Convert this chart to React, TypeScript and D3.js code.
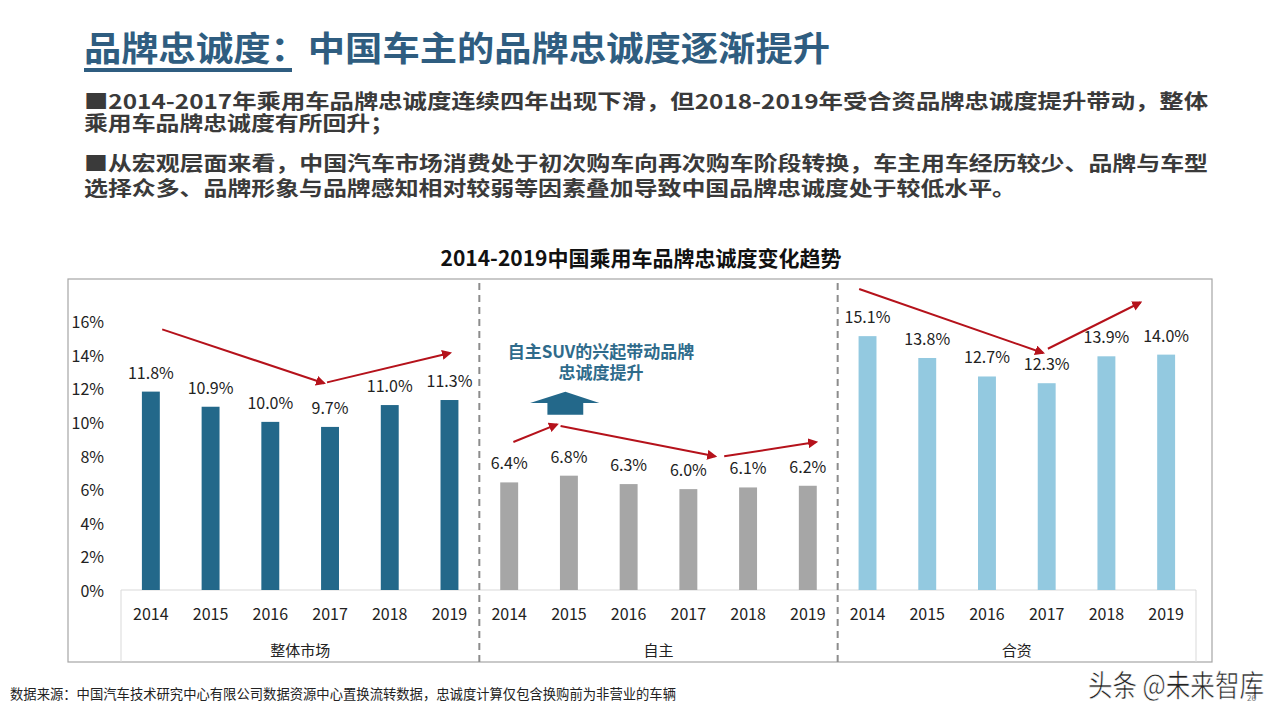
import { scaleBand, scaleLinear, range } from "d3";
import type { ReactElement } from "react";

const YEARS = ["2014", "2015", "2016", "2017", "2018", "2019"];
const GROUPS = ["整体市场", "自主", "合资"];
const OVERALL = [11.8, 10.9, 10.0, 9.7, 11.0, 11.3];
const DOMESTIC = [6.4, 6.8, 6.3, 6.0, 6.1, 6.2];
const JOINT = [15.1, 13.8, 12.7, 12.3, 13.9, 14.0];
const SERIES = [OVERALL, DOMESTIC, JOINT];
const BAR_COLORS = ["#23688a", "#a6a6a6", "#93c9e0"];
const Y_TICKS = [0, 2, 4, 6, 8, 10, 12, 14, 16];

// trend arrows, as [band position, value] pairs
const ARROWS: Array<[[number, number], [number, number]]> = [
  [[0.69, 15.5], [3.4, 12.3]],
  [[3.45, 12.35], [5.51, 14.1]],
  [[6.57, 8.8], [7.3, 9.85]],
  [[7.36, 9.75], [9.95, 7.95]],
  [[10.1, 7.95], [11.64, 8.8]],
  [[12.36, 17.9], [15.44, 14.1]],
  [[15.52, 14.35], [17.07, 17.1]],
];

// block arrow under the note: [band position, value] outline
const UP_ARROW: Array<[number, number]> = [
  [7.44, 11.79],
  [8.01, 11.13],
  [7.74, 11.13],
  [7.74, 10.42],
  [7.14, 10.42],
  [7.14, 11.13],
  [6.85, 11.13],
];

const TITLE = "品牌忠诚度：中国车主的品牌忠诚度逐渐提升";
const BULLETS = [
  "■2014-2017年乘用车品牌忠诚度连续四年出现下滑，但2018-2019年受合资品牌忠诚度提升带动，整体",
  "乘用车品牌忠诚度有所回升；",
  "■从宏观层面来看，中国汽车市场消费处于初次购车向再次购车阶段转换，车主用车经历较少、品牌与车型",
  "选择众多、品牌形象与品牌感知相对较弱等因素叠加导致中国品牌忠诚度处于较低水平。",
];
const CHART_TITLE = "2014-2019中国乘用车品牌忠诚度变化趋势";
const NOTE_LINES = ["自主SUV的兴起带动品牌", "忠诚度提升"];
const SOURCE =
  "数据来源：中国汽车技术研究中心有限公司数据资源中心置换流转数据，忠诚度计算仅包含换购前为非营业的车辆";

const FONT = '"Noto Sans CJK SC", "Noto Sans", sans-serif';
const W = 1280;
const H = 720;
const BOX = { x0: 68, y0: 279, x1: 1212, y1: 662 };
const PLOT = { x0: 121, x1: 1196, y0: 321, y1: 590 };

export default function App(): ReactElement {
  const keys = GROUPS.flatMap((g) => YEARS.map((y) => `${g}|${y}`));
  const x = scaleBand<string>()
    .domain(keys)
    .range([PLOT.x0, PLOT.x1])
    .paddingInner(0.7)
    .paddingOuter(0.35);
  const pos = scaleLinear().domain([0, keys.length]).range([PLOT.x0, PLOT.x1]);
  const y = scaleLinear().domain([0, 16]).range([PLOT.y1, PLOT.y0]);
  const bw = x.bandwidth();

  const bulletY = [100, 122, 162, 187];
  const bulletLen = [1124, 310, 1124, 932];

  return (
    <svg
      width={W}
      height={H}
      viewBox={`0 0 ${W} ${H}`}
      style={{ position: "absolute", left: 0, top: 0, background: "#fff" }}
      fontFamily={FONT}
    >
      <defs>
        <marker id="arrowHead" viewBox="0 0 10 10" refX="8" refY="5"
          markerWidth="5" markerHeight="5" orient="auto">
          <path d="M0,0 L10,5 L0,10 z" fill="#b5121b" />
        </marker>
      </defs>

      {/* page heading */}
      <text x={84} y={46} dominantBaseline="central" fontSize={34} fontWeight={700}
        fill="#2f5d80" textLength={746} lengthAdjust="spacingAndGlyphs">
        {TITLE}
      </text>
      <rect x={84} y={68} width={208} height={4} fill="#2f5d80" />

      {BULLETS.map((line, i) => (
        <text key={i} x={84} y={bulletY[i]} dominantBaseline="central" fontSize={20}
          fontWeight={700} fill="#3a3a3a" textLength={bulletLen[i]}
          lengthAdjust="spacingAndGlyphs">
          {line}
        </text>
      ))}

      {/* chart title */}
      <text x={641} y={257} dominantBaseline="central" textAnchor="middle"
        fontSize={21} fontWeight={700} fill="#111">
        {CHART_TITLE}
      </text>

      {/* chart frame */}
      <rect x={BOX.x0} y={BOX.y0} width={BOX.x1 - BOX.x0} height={BOX.y1 - BOX.y0}
        fill="none" stroke="#a6a6a6" strokeWidth={1.2} />
      <path
        d={`M${PLOT.x0},${BOX.y1} V${PLOT.y1} H${PLOT.x1} V${BOX.y1}`}
        fill="none" stroke="#d9d9d9" strokeWidth={1}
      />

      {/* y axis labels */}
      {Y_TICKS.map((t) => (
        <text key={t} x={104} y={y(t)} textAnchor="end" dominantBaseline="central"
          fontSize={16} fill="#222">
          {`${t}%`}
        </text>
      ))}

      {/* group separators */}
      {range(1, GROUPS.length).map((g) => (
        <line key={g} x1={pos(g * YEARS.length)} x2={pos(g * YEARS.length)}
          y1={283} y2={BOX.y1} stroke="#8c8c8c" strokeWidth={2}
          strokeDasharray="7,5" />
      ))}

      {/* bars and value labels */}
      {GROUPS.map((g, gi) =>
        YEARS.map((yr, i) => {
          const k = `${g}|${yr}`;
          const v = SERIES[gi][i];
          const bx = x(k) ?? 0;
          return (
            <g key={k}>
              <rect x={bx} y={y(v)} width={bw} height={y(0) - y(v)}
                fill={BAR_COLORS[gi]} />
              <text x={bx + bw / 2} y={y(v) - 20} textAnchor="middle"
                dominantBaseline="central" fontSize={16} fill="#222">
                {`${v.toFixed(1)}%`}
              </text>
              <text x={bx + bw / 2} y={613} textAnchor="middle"
                dominantBaseline="central" fontSize={16} fill="#222">
                {yr}
              </text>
            </g>
          );
        }),
      )}

      {GROUPS.map((g, gi) => (
        <text key={g} x={pos((gi + 0.5) * YEARS.length)} y={649}
          textAnchor="middle" dominantBaseline="central" fontSize={15} fill="#222">
          {g}
        </text>
      ))}

      {/* trend arrows */}
      {ARROWS.map(([a, b], i) => (
        <line key={i} x1={pos(a[0])} y1={y(a[1])} x2={pos(b[0])} y2={y(b[1])}
          stroke="#b5121b" strokeWidth={2} markerEnd="url(#arrowHead)" />
      ))}

      {/* annotation for domestic brands */}
      {NOTE_LINES.map((l, i) => (
        <text key={l} x={601} y={350 + i * 21} textAnchor="middle"
          dominantBaseline="central" fontSize={17} fontWeight={700} fill="#2f6b8b">
          {l}
        </text>
      ))}
      <path
        d={`M${UP_ARROW.map(([u, v]) => `${pos(u)},${y(v)}`).join(" L")} Z`}
        fill="#23688a"
      />

      {/* footer */}
      <text x={10} y={693} dominantBaseline="central" fontSize={13.5} fill="#222"
        textLength={666} lengthAdjust="spacingAndGlyphs">
        {SOURCE}
      </text>
      <text x={1088} y={683} dominantBaseline="central" fontSize={30} fill="#222"
        stroke="#fff" strokeWidth={0.6} textLength={176} lengthAdjust="spacingAndGlyphs">
        头条 @未来智库
      </text>
      <text x={1247} y={697} dominantBaseline="central" fontSize={8} fill="#777">
        26
      </text>
    </svg>
  );
}
